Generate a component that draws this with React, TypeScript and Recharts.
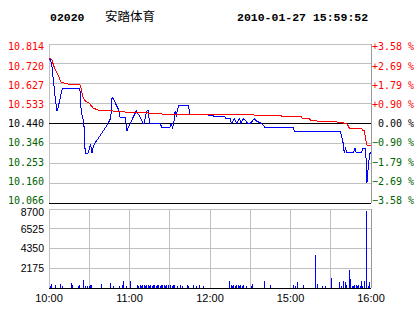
import React from "react"
import { LineChart, Line, BarChart, Bar, XAxis, YAxis, CartesianGrid, ReferenceLine } from "recharts"

// 02020 安踏体育, intraday 2010-01-27
const prevClose = 10.44

// minute since 10:00 (trading minutes, lunch break removed), last price
const priceTicksData: [number, number][] = [
  [0, 10.74], [1, 10.74], [2, 10.72], [3, 10.66], [4, 10.6], [5, 10.54], [6, 10.5], [7, 10.52],
  [8, 10.55], [9, 10.58], [10, 10.606], [23, 10.606], [24, 10.5], [25, 10.47], [26, 10.44],
  [27, 10.3], [29, 10.3], [30, 10.32], [31, 10.343], [32, 10.3], [33, 10.33], [34, 10.345],
  [38, 10.382], [43, 10.429], [46, 10.465], [47, 10.562], [48, 10.555], [52, 10.503], [53, 10.47],
  [57, 10.47], [58, 10.405], [59, 10.42], [65, 10.499], [68, 10.47], [70, 10.44], [71, 10.44],
  [72, 10.48], [73, 10.499], [74, 10.499], [75, 10.44], [83, 10.44], [84, 10.42], [90, 10.42],
  [91, 10.44], [92, 10.42], [93, 10.44], [94, 10.499], [95, 10.48], [96, 10.51], [97, 10.526],
  [104, 10.526], [105, 10.482], [118, 10.482], [119, 10.479], [122, 10.479], [123, 10.471],
  [131, 10.471], [132, 10.463], [135, 10.463], [136, 10.44], [138, 10.463], [140, 10.44],
  [142, 10.463], [143, 10.44], [145, 10.463], [147, 10.45], [148, 10.44], [150, 10.44],
  [153, 10.463], [155, 10.45], [157, 10.445], [159, 10.437], [160, 10.43], [161, 10.421],
  [182, 10.421], [183, 10.402], [217, 10.402], [218, 10.382], [219, 10.358], [220, 10.304],
  [221, 10.322], [222, 10.304], [227, 10.304], [228, 10.324], [229, 10.304], [233, 10.304],
  [234, 10.324], [236, 10.324], [237, 10.162], [238, 10.238], [239, 10.296], [240, 10.306],
]

// average price
const avgTicksData: [number, number][] = [
  [0, 10.747], [2, 10.742], [4, 10.703], [7, 10.664], [9, 10.633], [15, 10.625], [23, 10.625],
  [24, 10.605], [25, 10.57], [27, 10.546], [30, 10.535], [33, 10.512], [37, 10.503], [47, 10.499],
  [57, 10.494], [68, 10.492], [86, 10.484], [152, 10.484], [153, 10.479], [173, 10.479],
  [174, 10.471], [188, 10.471], [189, 10.463], [194, 10.463], [195, 10.455], [199, 10.455],
  [200, 10.449], [214, 10.449], [215, 10.445], [219, 10.445], [220, 10.44], [222, 10.44],
  [223, 10.429], [224, 10.416], [233, 10.416], [234, 10.405], [235, 10.405], [236, 10.366],
  [237, 10.338], [240, 10.338],
]

// volume per minute
const volumeData: [number, number][] = [
  [1, 250], [2, 470], [5, 360], [9, 470], [10, 250], [17, 600], [18, 360], [22, 250], [23, 360],
  [26, 915], [27, 250], [29, 250], [30, 250], [31, 330], [32, 360], [39, 470], [46, 580], [48, 250],
  [53, 250], [55, 360], [56, 730], [58, 250], [61, 770],
  [66, 280], [67, 250], [68, 280], [69, 250], [70, 280], [71, 280], [72, 250], [73, 280], [74, 280],
  [75, 250], [76, 280], [77, 250], [78, 280], [79, 280], [80, 250], [81, 330], [82, 280], [83, 250],
  [84, 360], [85, 280], [86, 330], [87, 250], [88, 280], [89, 360], [91, 280], [92, 250], [93, 330],
  [94, 280], [96, 250], [98, 360], [100, 250], [103, 330], [104, 250], [108, 330], [110, 250],
  [112, 360], [115, 250],
  [135, 770], [136, 280], [137, 250], [138, 280], [139, 250], [140, 280], [141, 280], [142, 250],
  [143, 280], [144, 250], [145, 280], [147, 250], [151, 250], [152, 470], [161, 730], [165, 360],
  [182, 360], [184, 250], [185, 620], [190, 360], [199, 3670], [200, 470], [204, 250], [206, 250],
  [211, 1150], [217, 620], [218, 250], [220, 730], [221, 620], [222, 360], [224, 2010], [225, 1020],
  [226, 250], [227, 250], [228, 330], [229, 330], [230, 250], [231, 330], [232, 250], [233, 800],
  [234, 250], [235, 730], [237, 8510], [238, 250], [239, 620],
]

const priceTicks = [10.066, 10.16, 10.253, 10.346, 10.44, 10.533, 10.627, 10.72, 10.814]
const pctLabels = ["-3.58", "-2.69", "-1.79", "-0.90", " 0.00", "+0.90", "+1.79", "+2.69", "+3.58"]
const volTicks = [2175, 4350, 6525, 8700]
const timeTicks = [0, 30, 60, 90, 120, 150, 180, 210, 240]
const timeLabels: Record<number, string> = { 0: "10:00", 60: "11:00", 120: "12:00", 180: "15:00", 240: "16:00" }

const priceData = priceTicksData.map(([t, p]) => ({ t, p }))
const avgData = avgTicksData.map(([t, a]) => ({ t, a }))
const volData = volumeData.map(([t, v]) => ({ t, v }))

const pMin = priceTicks[0]
const pMax = priceTicks[priceTicks.length - 1]
const mono = "'DejaVu Sans Mono', 'Liberation Mono', monospace"
const sans = "'Liberation Sans', Arial, sans-serif"

const tickColor = (v: number) =>
  v > prevClose + 1e-6 ? "#ff0000" : v < prevClose - 1e-6 ? "#006400" : "#000000"

// labels are pulled inward a little at the ends, like the original
const inset = (v: number) => (2.7 * (v - prevClose)) / (pMax - prevClose)

const LeftTick = (props: any) => {
  const { x, y, payload } = props
  const v = payload.value
  return (
    <text x={x} y={y + inset(v)} dy="0.36em" textAnchor="end" fill={tickColor(v)} fontFamily={mono} fontSize={10}>
      {v.toFixed(3)}
    </text>
  )
}

const RightTick = (props: any) => {
  const { x, y, payload } = props
  const v = payload.value
  const i = priceTicks.indexOf(v)
  return (
    <text x={x} y={y + inset(v)} dy="0.36em" textAnchor="start" fill={tickColor(v)} fontFamily={mono} fontSize={10} style={{ whiteSpace: "pre" }}>
      {(pctLabels[i] || "").replace("-", "\u2212") + " %"}
    </text>
  )
}

const VolTick = (props: any) => {
  const { x, y, payload } = props
  const shift = payload.value === 8700 ? 3.5 : 0
  return (
    <text x={x} y={y + shift} dy="0.36em" textAnchor="end" fill="#000" fontFamily={sans} fontSize={10.5}>
      {payload.value}
    </text>
  )
}

const TimeTick = (props: any) => {
  const { x, y, payload } = props
  return (
    <text x={x} y={y + 14} textAnchor="middle" fill="#000" fontFamily={sans} fontSize={11}>
      {timeLabels[payload.value] || ""}
    </text>
  )
}

export default function App() {
  return (
    <div style={{ position: "absolute", left: 0, top: 0, width: 414, height: 314, background: "#fff" }}>
      <style>{`.chart path, .chart line, .chart rect { shape-rendering: crispEdges; }`}</style>
      <svg width={414} height={30} style={{ position: "absolute", left: 0, top: 0 }}>
        <text x={50} y={21} fontFamily="'Liberation Mono', monospace" fontWeight="bold" fontSize={11.5} fill="#000">02020</text>
        <text x={105} y={21} fontFamily="'Noto Sans CJK SC', sans-serif" fontSize={12.5} fill="#000">安踏体育</text>
        <text x={237} y={21} fontFamily="'Liberation Mono', monospace" fontWeight="bold" fontSize={11.5} fill="#000">2010-01-27 15:59:52</text>
      </svg>

      <div className="chart" style={{ position: "absolute", left: 0, top: 0 }}>
        <LineChart width={414} height={210} margin={{ top: 44, right: 0, bottom: 7, left: 0 }}>
          <XAxis type="number" dataKey="t" domain={[0, 240]} ticks={timeTicks} tick={false} axisLine={false} tickLine={false} height={0} />
          <YAxis yAxisId="l" orientation="left" width={49} domain={[pMin, pMax]} ticks={priceTicks} axisLine={false} tickLine={false} tickSize={0} tickMargin={5} tick={LeftTick} interval={0} />
          <YAxis yAxisId="r" orientation="right" width={43} domain={[pMin, pMax]} ticks={priceTicks} axisLine={{ stroke: "#999999" }} tickLine={false} tickSize={0} tickMargin={1} tick={RightTick} interval={0} />
          <CartesianGrid yAxisId="l" stroke="#c0c0c0" />
          <ReferenceLine yAxisId="l" y={prevClose} stroke="#000" />
          <ReferenceLine yAxisId="l" y={pMin} stroke="#000" />
          <Line yAxisId="l" data={priceData} dataKey="p" type="linear" stroke="#0000ff" strokeWidth={1} dot={false} isAnimationActive={false} />
          <Line yAxisId="r" data={avgData} dataKey="a" type="linear" stroke="#ff0000" strokeWidth={1} dot={false} isAnimationActive={false} />
        </LineChart>
      </div>

      <div className="chart" style={{ position: "absolute", left: 0, top: 0 }}>
        <BarChart width={414} height={314} data={volData} margin={{ top: 209, right: 43, bottom: 0, left: 0 }}>
          <XAxis type="number" dataKey="t" domain={[0, 240]} ticks={timeTicks} interval={0} height={26} axisLine={{ stroke: "#000" }} tickLine={false} tickSize={0} tickMargin={0} tick={TimeTick} />
          <YAxis width={49} domain={[0, 8700]} ticks={volTicks} interval={0} axisLine={false} tickLine={false} tickSize={0} tickMargin={5} tick={VolTick} />
          <CartesianGrid stroke="#c0c0c0" />
          <ReferenceLine x={240} stroke="#999999" />
          <Bar dataKey="v" fill="#0000ff" barSize={1} isAnimationActive={false} />
        </BarChart>
      </div>
    </div>
  )
}
